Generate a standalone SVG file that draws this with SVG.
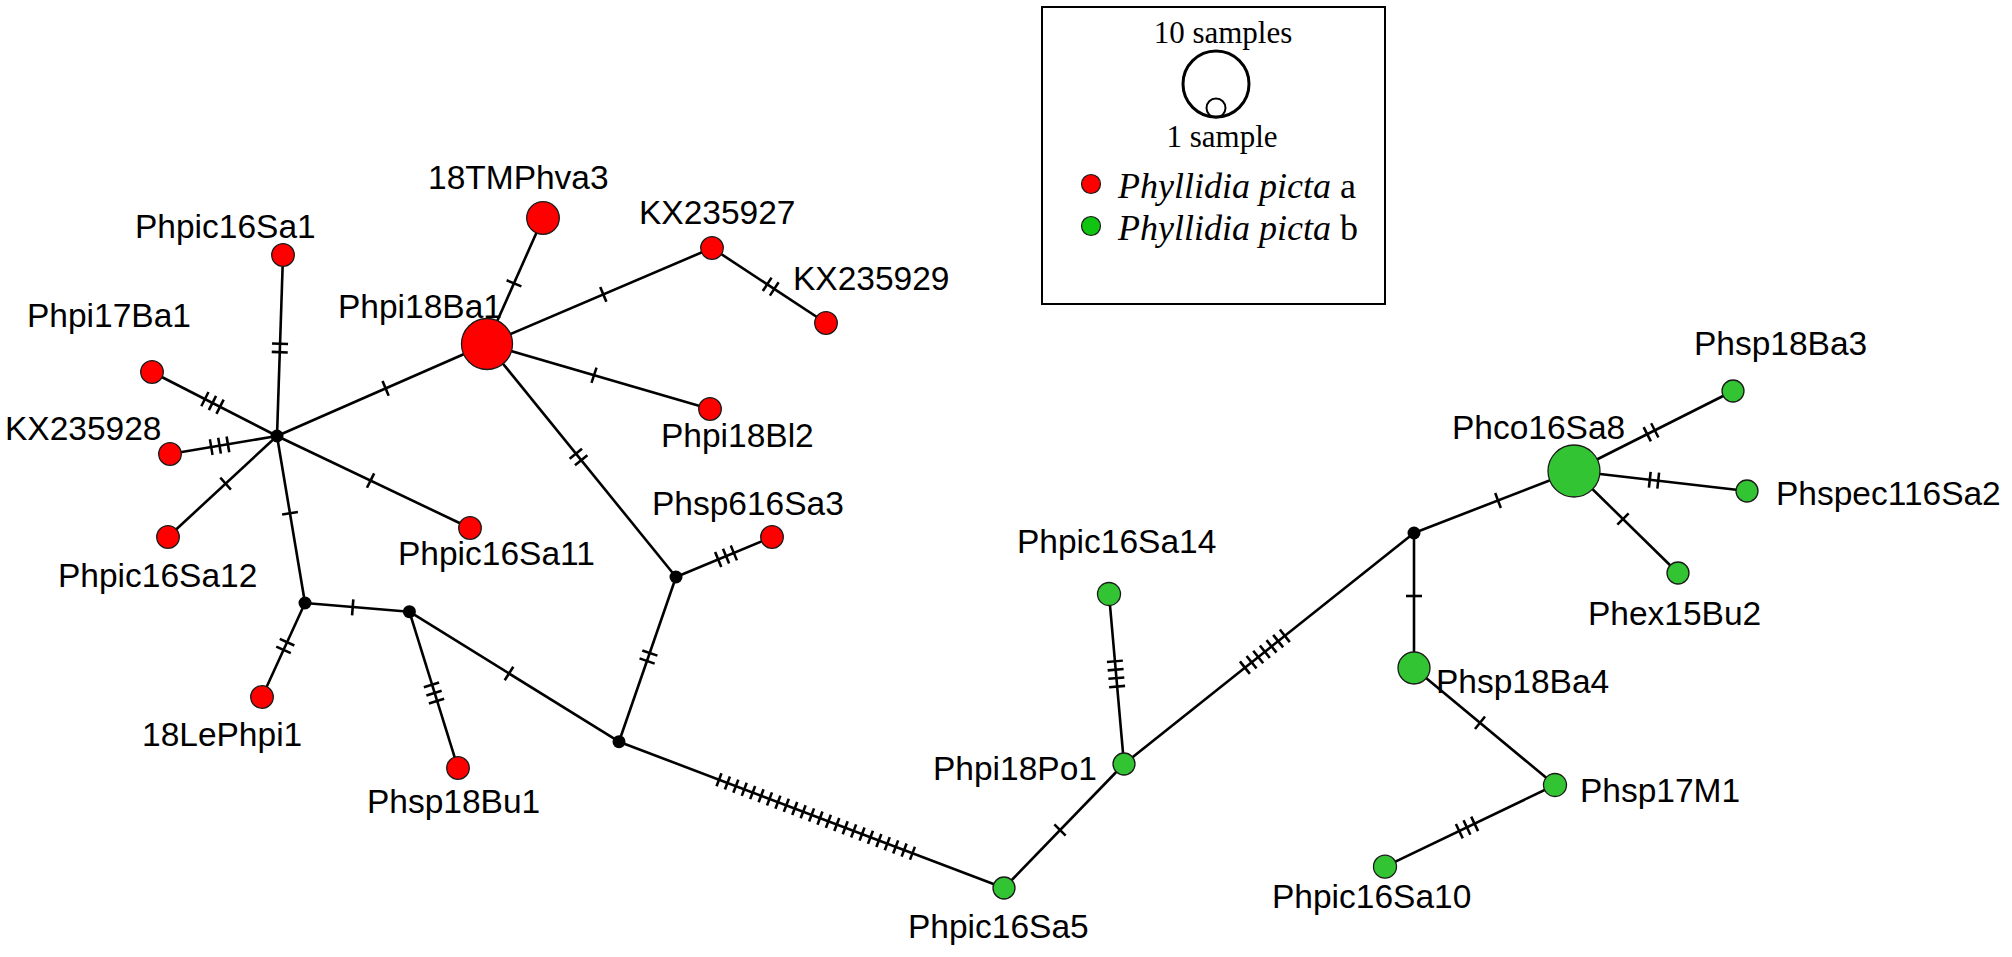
<svg xmlns="http://www.w3.org/2000/svg" width="2012" height="957" viewBox="0 0 2012 957">
<style>
.bg{fill:#fff}
.e{stroke:#000;stroke-width:2.6;fill:none}
.tk{stroke:#000;stroke-width:16;stroke-dasharray:2.6 5.9;fill:none}
.tk24{stroke:#000;stroke-width:14;stroke-dasharray:2.6 6.4;fill:none}
.r{fill:#ff0000;stroke:#1a1a1a;stroke-width:1.3}
.g{fill:#33c433;stroke:#1a1a1a;stroke-width:1.3}
.j{fill:#000}
.lb{font-family:"Liberation Sans",Arial,sans-serif;font-size:33.5px;fill:#000}
.lg{font-family:"Liberation Serif","Times New Roman",serif;fill:#000}
</style>
<rect class="bg" x="0" y="0" width="2012" height="957"/>

<g id="connectors">
  <!-- edges -->
  <line class="e" x1="277" y1="436" x2="283" y2="255"/>
  <line class="e" x1="277" y1="436" x2="152" y2="372"/>
  <line class="e" x1="277" y1="436" x2="170" y2="454"/>
  <line class="e" x1="277" y1="436" x2="168" y2="537"/>
  <line class="e" x1="277" y1="436" x2="487" y2="344"/>
  <line class="e" x1="277" y1="436" x2="470" y2="528"/>
  <line class="e" x1="277" y1="436" x2="305" y2="603"/>
  <line class="e" x1="487" y1="344" x2="543" y2="218"/>
  <line class="e" x1="487" y1="344" x2="712" y2="248"/>
  <line class="e" x1="712" y1="248" x2="826" y2="323"/>
  <line class="e" x1="487" y1="344" x2="710" y2="409"/>
  <line class="e" x1="487" y1="344" x2="676" y2="577"/>
  <line class="e" x1="676" y1="577" x2="772" y2="537"/>
  <line class="e" x1="305" y1="603" x2="262" y2="697"/>
  <line class="e" x1="305" y1="603" x2="409.4" y2="611.7"/>
  <line class="e" x1="409.4" y1="611.7" x2="458" y2="768"/>
  <line class="e" x1="409.4" y1="611.7" x2="619" y2="741.7"/>
  <line class="e" x1="676" y1="577" x2="619" y2="741.7"/>
  <line class="e" x1="619" y1="741.7" x2="1004" y2="888"/>
  <line class="e" x1="1004" y1="888" x2="1124" y2="764"/>
  <line class="e" x1="1124" y1="764" x2="1109" y2="594"/>
  <line class="e" x1="1124" y1="764" x2="1414" y2="533"/>
  <line class="e" x1="1414" y1="533" x2="1414" y2="668"/>
  <line class="e" x1="1414" y1="533" x2="1574" y2="471"/>
  <line class="e" x1="1574" y1="471" x2="1733" y2="391"/>
  <line class="e" x1="1574" y1="471" x2="1747" y2="491"/>
  <line class="e" x1="1574" y1="471" x2="1678" y2="573"/>
  <line class="e" x1="1414" y1="668" x2="1555" y2="785"/>
  <line class="e" x1="1555" y1="785" x2="1385" y2="866.7"/>
  <!-- mutation ticks -->
  <path class="tk" d="M279.7,353.5 L280.1,342.5"/>
  <path class="tk" d="M221.2,407.4 L203.8,398.6"/>
  <path class="tk" d="M229.2,444.1 L210.0,447.3"/>
  <path class="tk" d="M226.5,482.8 L224.7,484.4"/>
  <path class="tk" d="M384.4,388.9 L386.8,387.9"/>
  <path class="tk" d="M369.4,480.0 L371.8,481.2"/>
  <path class="tk" d="M289.8,512.0 L290.2,514.6"/>
  <path class="tk" d="M513.5,284.5 L514.5,282.1"/>
  <path class="tk" d="M602.1,294.9 L604.5,293.9"/>
  <path class="tk" d="M766.1,283.6 L775.3,289.6"/>
  <path class="tk" d="M592.8,374.8 L595.2,375.6"/>
  <path class="tk" d="M575.0,452.7 L582.0,461.3"/>
  <path class="tk" d="M717.0,560.0 L735.0,552.5"/>
  <path class="tk" d="M287.6,641.0 L283.0,651.0"/>
  <path class="tk" d="M351.4,607.2 L354.0,607.4"/>
  <path class="tk" d="M431.1,683.7 L436.9,702.3"/>
  <path class="tk" d="M507.9,672.8 L510.1,674.2"/>
  <path class="tk" d="M650.3,651.8 L646.7,662.2"/>
  <path class="tk24" d="M717.8,779.3 L913.6,853.7"/>
  <path class="tk" d="M1059.1,830.9 L1060.9,829.1"/>
  <path class="tk" d="M1117.2,687.9 L1114.8,660.1"/>
  <path class="tk" d="M1243.9,668.4 L1288.1,633.2"/>
  <path class="tk" d="M1414,594.7 L1414,597.3"/>
  <path class="tk" d="M1496.8,500.9 L1499.2,500.0"/>
  <path class="tk" d="M1646.1,434.8 L1655.9,429.8"/>
  <path class="tk" d="M1648.5,479.6 L1659.5,480.8"/>
  <path class="tk" d="M1622.1,518.1 L1623.9,519.9"/>
  <path class="tk" d="M1479.0,722.0 L1481.0,723.6"/>
  <path class="tk" d="M1475.8,823.3 L1458.2,831.7"/>
</g>

<!-- junction (median) vertices -->
<g id="j1"><circle class="j" cx="277" cy="436" r="6.5"/></g>
<g id="j2"><circle class="j" cx="305" cy="603" r="6.5"/></g>
<g id="j3"><circle class="j" cx="409.4" cy="611.7" r="6.5"/></g>
<g id="j4"><circle class="j" cx="619" cy="741.7" r="6.5"/></g>
<g id="j5"><circle class="j" cx="676" cy="577" r="6.5"/></g>
<g id="j6"><circle class="j" cx="1414" cy="533" r="6.5"/></g>

<!-- red haplotypes -->
<g id="Phpic16Sa1"><circle class="r" cx="283" cy="255" r="11.3"/><text class="lb" x="135" y="238">Phpic16Sa1</text></g>
<g id="Phpi17Ba1"><circle class="r" cx="152" cy="372" r="11.3"/><text class="lb" x="27" y="327">Phpi17Ba1</text></g>
<g id="KX235928"><circle class="r" cx="170" cy="454" r="11.3"/><text class="lb" x="5" y="440">KX235928</text></g>
<g id="Phpic16Sa12"><circle class="r" cx="168" cy="537" r="11.3"/><text class="lb" x="58" y="587">Phpic16Sa12</text></g>
<g id="Phpi18Ba1"><circle class="r" cx="487" cy="344" r="25.5"/><text class="lb" x="338" y="318">Phpi18Ba1</text></g>
<g id="n18TMPhva3"><circle class="r" cx="543" cy="218" r="16.3"/><text class="lb" x="428" y="189">18TMPhva3</text></g>
<g id="KX235927"><circle class="r" cx="712" cy="248" r="11.3"/><text class="lb" x="639" y="224">KX235927</text></g>
<g id="KX235929"><circle class="r" cx="826" cy="323" r="11.3"/><text class="lb" x="793" y="290">KX235929</text></g>
<g id="Phpi18Bl2"><circle class="r" cx="710" cy="409" r="11.3"/><text class="lb" x="661" y="447">Phpi18Bl2</text></g>
<g id="Phpic16Sa11"><circle class="r" cx="470" cy="528" r="11.3"/><text class="lb" x="398" y="565">Phpic16Sa11</text></g>
<g id="Phsp616Sa3"><circle class="r" cx="772" cy="537" r="11.3"/><text class="lb" x="652" y="515">Phsp616Sa3</text></g>
<g id="n18LePhpi1"><circle class="r" cx="262" cy="697" r="11.3"/><text class="lb" x="142" y="746">18LePhpi1</text></g>
<g id="Phsp18Bu1"><circle class="r" cx="458" cy="768" r="11.3"/><text class="lb" x="367" y="813">Phsp18Bu1</text></g>

<!-- green haplotypes -->
<g id="Phpic16Sa5"><circle class="g" cx="1004" cy="888" r="11"/><text class="lb" x="908" y="938">Phpic16Sa5</text></g>
<g id="Phpi18Po1"><circle class="g" cx="1124" cy="764" r="11"/><text class="lb" x="933" y="780">Phpi18Po1</text></g>
<g id="Phpic16Sa14"><circle class="g" cx="1109" cy="594" r="11.5"/><text class="lb" x="1017" y="553">Phpic16Sa14</text></g>
<g id="Phsp18Ba4"><circle class="g" cx="1414" cy="668" r="16"/><text class="lb" x="1436" y="693">Phsp18Ba4</text></g>
<g id="Phco16Sa8"><circle class="g" cx="1574" cy="471" r="26"/><text class="lb" x="1452" y="439">Phco16Sa8</text></g>
<g id="Phsp18Ba3"><circle class="g" cx="1733" cy="391" r="11"/><text class="lb" x="1694" y="355">Phsp18Ba3</text></g>
<g id="Phspec116Sa2"><circle class="g" cx="1747" cy="491" r="11"/><text class="lb" x="1776" y="505">Phspec116Sa2</text></g>
<g id="Phex15Bu2"><circle class="g" cx="1678" cy="573" r="11"/><text class="lb" x="1588" y="625">Phex15Bu2</text></g>
<g id="Phsp17M1"><circle class="g" cx="1555" cy="785" r="11.5"/><text class="lb" x="1580" y="802">Phsp17M1</text></g>
<g id="Phpic16Sa10"><circle class="g" cx="1385" cy="866.7" r="11.5"/><text class="lb" x="1272" y="908">Phpic16Sa10</text></g>

<!-- legend -->
<g id="legend">
  <rect x="1042" y="7" width="343" height="297" fill="#fff" stroke="#000" stroke-width="2"/>
  <text class="lg" x="1223" y="43" font-size="31" text-anchor="middle">10 samples</text>
  <circle cx="1216" cy="84" r="33" fill="none" stroke="#000" stroke-width="3"/>
  <circle cx="1216" cy="108" r="9.5" fill="none" stroke="#000" stroke-width="2"/>
  <text class="lg" x="1222" y="147" font-size="31" text-anchor="middle">1 sample</text>
  <circle cx="1091" cy="184" r="9.5" fill="#ff0000" stroke="#1a1a1a" stroke-width="1.2"/>
  <circle cx="1091" cy="226" r="9.5" fill="#11c411" stroke="#1a1a1a" stroke-width="1.2"/>
  <text class="lg" x="1118" y="198" font-size="36"><tspan font-style="italic">Phyllidia picta</tspan> a</text>
  <text class="lg" x="1118" y="240" font-size="36"><tspan font-style="italic">Phyllidia picta</tspan> b</text>
</g>
</svg>
